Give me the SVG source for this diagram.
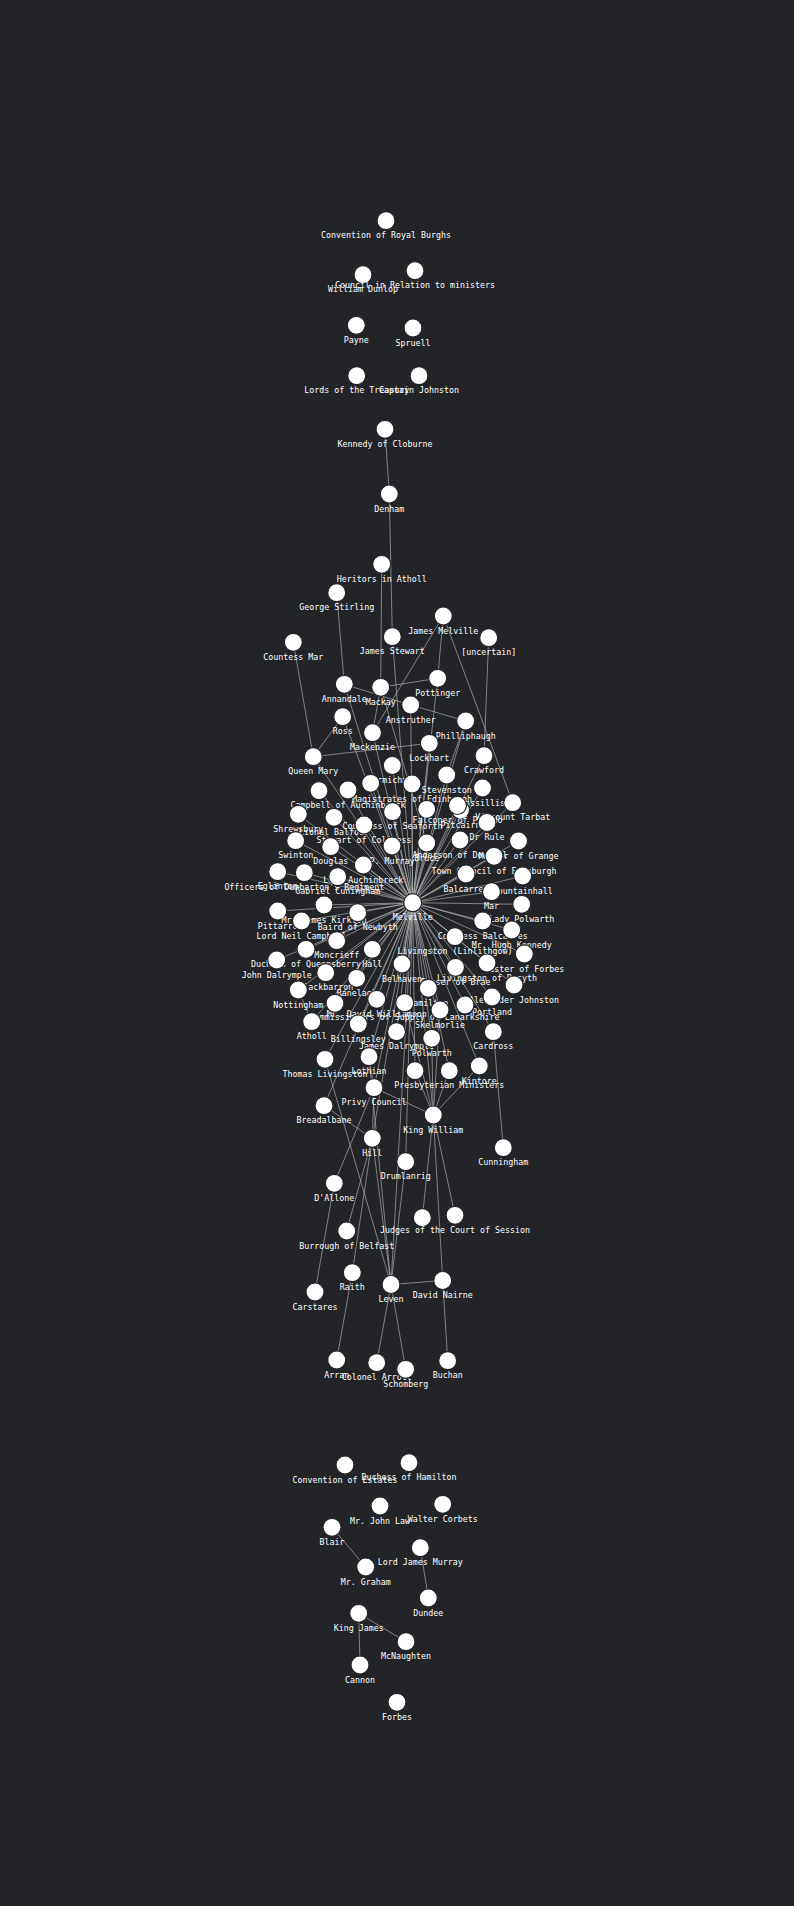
<svg xmlns="http://www.w3.org/2000/svg" width="794" height="1906" viewBox="0 0 794 1906">
<style>
.e line{stroke:#bdbdbd;stroke-opacity:.62;stroke-width:1}
.n circle{fill:#fff;stroke:#232428;stroke-width:1.2}
.n text{font-family:"DejaVu Sans Mono","Liberation Mono",monospace;font-size:8.3px;fill:#fff;text-anchor:middle}
</style>
<rect width="794" height="1906" fill="#232428"/>
<g id="edges" class="e">
<line x1="412.7" y1="902.7" x2="392.3" y2="636.7"/>
<line x1="412.7" y1="902.7" x2="344.3" y2="684.3"/>
<line x1="412.7" y1="902.7" x2="437.7" y2="678.3"/>
<line x1="412.7" y1="902.7" x2="410.7" y2="705"/>
<line x1="412.7" y1="902.7" x2="342.7" y2="716.7"/>
<line x1="412.7" y1="902.7" x2="465.7" y2="721"/>
<line x1="412.7" y1="902.7" x2="372.5" y2="732.7"/>
<line x1="412.7" y1="902.7" x2="429.3" y2="743.3"/>
<line x1="412.7" y1="902.7" x2="313.3" y2="756.7"/>
<line x1="412.7" y1="902.7" x2="392.3" y2="765.5"/>
<line x1="412.7" y1="902.7" x2="484" y2="755.7"/>
<line x1="412.7" y1="902.7" x2="446.7" y2="775"/>
<line x1="412.7" y1="902.7" x2="412" y2="784"/>
<line x1="412.7" y1="902.7" x2="370.7" y2="783.3"/>
<line x1="412.7" y1="902.7" x2="319" y2="790.7"/>
<line x1="412.7" y1="902.7" x2="348" y2="790"/>
<line x1="412.7" y1="902.7" x2="482.5" y2="788"/>
<line x1="412.7" y1="902.7" x2="512.7" y2="802.7"/>
<line x1="412.7" y1="902.7" x2="298.3" y2="814.3"/>
<line x1="412.7" y1="902.7" x2="334" y2="817.3"/>
<line x1="412.7" y1="902.7" x2="392.5" y2="811.7"/>
<line x1="412.7" y1="902.7" x2="426.7" y2="809.3"/>
<line x1="412.7" y1="902.7" x2="457.5" y2="805.5"/>
<line x1="412.7" y1="902.7" x2="460.5" y2="810"/>
<line x1="412.7" y1="902.7" x2="487" y2="822.5"/>
<line x1="412.7" y1="902.7" x2="364" y2="825"/>
<line x1="412.7" y1="902.7" x2="295.7" y2="840.7"/>
<line x1="412.7" y1="902.7" x2="330.7" y2="846.7"/>
<line x1="412.7" y1="902.7" x2="392" y2="846"/>
<line x1="412.7" y1="902.7" x2="426.7" y2="843"/>
<line x1="412.7" y1="902.7" x2="460" y2="840"/>
<line x1="412.7" y1="902.7" x2="518.5" y2="841"/>
<line x1="412.7" y1="902.7" x2="277.7" y2="871.7"/>
<line x1="412.7" y1="902.7" x2="304.3" y2="872.7"/>
<line x1="412.7" y1="902.7" x2="337.7" y2="876.7"/>
<line x1="412.7" y1="902.7" x2="363.3" y2="865"/>
<line x1="412.7" y1="902.7" x2="494" y2="856.3"/>
<line x1="412.7" y1="902.7" x2="466" y2="874"/>
<line x1="412.7" y1="902.7" x2="522.7" y2="876"/>
<line x1="412.7" y1="902.7" x2="491.5" y2="891.7"/>
<line x1="412.7" y1="902.7" x2="277.7" y2="911"/>
<line x1="412.7" y1="902.7" x2="324" y2="905"/>
<line x1="412.7" y1="902.7" x2="357.7" y2="912.7"/>
<line x1="412.7" y1="902.7" x2="301.5" y2="921"/>
<line x1="412.7" y1="902.7" x2="521.7" y2="904.3"/>
<line x1="412.7" y1="902.7" x2="482.7" y2="921"/>
<line x1="412.7" y1="902.7" x2="511.7" y2="930"/>
<line x1="412.7" y1="902.7" x2="455" y2="936.7"/>
<line x1="412.7" y1="902.7" x2="336.7" y2="940.7"/>
<line x1="412.7" y1="902.7" x2="306" y2="949.3"/>
<line x1="412.7" y1="902.7" x2="372.3" y2="949.3"/>
<line x1="412.7" y1="902.7" x2="524.3" y2="954"/>
<line x1="412.7" y1="902.7" x2="276.7" y2="960"/>
<line x1="412.7" y1="902.7" x2="402" y2="964"/>
<line x1="412.7" y1="902.7" x2="487" y2="963"/>
<line x1="412.7" y1="902.7" x2="455.5" y2="967.3"/>
<line x1="412.7" y1="902.7" x2="325.7" y2="972.7"/>
<line x1="412.7" y1="902.7" x2="356.7" y2="978.3"/>
<line x1="412.7" y1="902.7" x2="514" y2="985"/>
<line x1="412.7" y1="902.7" x2="428.3" y2="988.3"/>
<line x1="412.7" y1="902.7" x2="298.3" y2="990"/>
<line x1="412.7" y1="902.7" x2="492" y2="997"/>
<line x1="412.7" y1="902.7" x2="376.7" y2="999.3"/>
<line x1="412.7" y1="902.7" x2="404.7" y2="1002.7"/>
<line x1="412.7" y1="902.7" x2="335" y2="1003.3"/>
<line x1="412.7" y1="902.7" x2="465" y2="1005"/>
<line x1="412.7" y1="902.7" x2="440" y2="1010"/>
<line x1="412.7" y1="902.7" x2="311.7" y2="1021.7"/>
<line x1="412.7" y1="902.7" x2="358.3" y2="1024"/>
<line x1="412.7" y1="902.7" x2="396.5" y2="1031.7"/>
<line x1="412.7" y1="902.7" x2="493.3" y2="1031.7"/>
<line x1="412.7" y1="902.7" x2="431.7" y2="1038.3"/>
<line x1="412.7" y1="902.7" x2="325" y2="1059.3"/>
<line x1="412.7" y1="902.7" x2="369" y2="1056.7"/>
<line x1="412.7" y1="902.7" x2="415" y2="1070.7"/>
<line x1="412.7" y1="902.7" x2="449.3" y2="1070.7"/>
<line x1="412.7" y1="902.7" x2="479.3" y2="1066"/>
<line x1="412.7" y1="902.7" x2="374" y2="1087.7"/>
<line x1="412.7" y1="902.7" x2="324" y2="1105.7"/>
<line x1="412.7" y1="902.7" x2="433.3" y2="1115"/>
<line x1="412.7" y1="902.7" x2="372.3" y2="1138.3"/>
<line x1="412.7" y1="902.7" x2="405.7" y2="1161.7"/>
<line x1="412.7" y1="902.7" x2="391" y2="1284.5"/>
<line x1="385" y1="429.3" x2="389.3" y2="494"/>
<line x1="389.3" y1="494" x2="392.3" y2="636.7"/>
<line x1="381.7" y1="564.3" x2="380.7" y2="687.3"/>
<line x1="336.7" y1="592.7" x2="344.3" y2="684.3"/>
<line x1="293.3" y1="642.3" x2="313.3" y2="756.7"/>
<line x1="443.3" y1="616" x2="437.7" y2="678.3"/>
<line x1="443.3" y1="616" x2="372.5" y2="732.7"/>
<line x1="443.3" y1="616" x2="512.7" y2="802.7"/>
<line x1="488.7" y1="637.7" x2="484" y2="755.7"/>
<line x1="380.7" y1="687.3" x2="437.7" y2="678.3"/>
<line x1="344.3" y1="684.3" x2="410.7" y2="705"/>
<line x1="410.7" y1="705" x2="465.7" y2="721"/>
<line x1="313.3" y1="756.7" x2="429.3" y2="743.3"/>
<line x1="342.7" y1="716.7" x2="313.3" y2="756.7"/>
<line x1="380.7" y1="687.3" x2="372.5" y2="732.7"/>
<line x1="380.7" y1="687.3" x2="426.7" y2="843"/>
<line x1="465.7" y1="721" x2="446.7" y2="775"/>
<line x1="298.3" y1="990" x2="311.7" y2="1021.7"/>
<line x1="503.3" y1="1147.7" x2="493.3" y2="1031.7"/>
<line x1="325" y1="1059.3" x2="391" y2="1284.5"/>
<line x1="324" y1="1105.7" x2="372.3" y2="1138.3"/>
<line x1="372.3" y1="1138.3" x2="374" y2="1087.7"/>
<line x1="372.3" y1="1138.3" x2="391" y2="1284.5"/>
<line x1="372.3" y1="1138.3" x2="352.3" y2="1272.7"/>
<line x1="372.3" y1="1138.3" x2="346.7" y2="1231"/>
<line x1="352.3" y1="1272.7" x2="336.7" y2="1360"/>
<line x1="334.3" y1="1183.3" x2="315" y2="1292"/>
<line x1="334.3" y1="1183.3" x2="374" y2="1087.7"/>
<line x1="391" y1="1284.5" x2="405.7" y2="1161.7"/>
<line x1="391" y1="1284.5" x2="376.7" y2="1362.7"/>
<line x1="391" y1="1284.5" x2="405.7" y2="1369.3"/>
<line x1="391" y1="1284.5" x2="442.7" y2="1280.5"/>
<line x1="391" y1="1284.5" x2="369" y2="1056.7"/>
<line x1="442.7" y1="1280.5" x2="447.7" y2="1360.7"/>
<line x1="433.3" y1="1115" x2="442.7" y2="1280.5"/>
<line x1="433.3" y1="1115" x2="455" y2="1215.3"/>
<line x1="433.3" y1="1115" x2="422.3" y2="1217.7"/>
<line x1="433.3" y1="1115" x2="374" y2="1087.7"/>
<line x1="433.3" y1="1115" x2="449.3" y2="1070.7"/>
<line x1="433.3" y1="1115" x2="479.3" y2="1066"/>
<line x1="433.3" y1="1115" x2="431.7" y2="1038.3"/>
<line x1="433.3" y1="1115" x2="440" y2="1010"/>
<line x1="433.3" y1="1115" x2="404.7" y2="1002.7"/>
<line x1="433.3" y1="1115" x2="415" y2="1070.7"/>
<line x1="369" y1="1056.7" x2="374" y2="1087.7"/>
<line x1="332" y1="1527.3" x2="365.7" y2="1567"/>
<line x1="420.3" y1="1547.7" x2="428.3" y2="1598"/>
<line x1="358.7" y1="1613.3" x2="406" y2="1641.7"/>
<line x1="358.7" y1="1613.3" x2="360" y2="1665"/>
</g>
<g id="n1" class="n" transform="translate(386,220.7)"><circle r="9"/><text y="17.5">Convention of Royal Burghs</text></g>
<g id="n2" class="n" transform="translate(363,274.7)"><circle r="9"/><text y="17.5">William Dunlop</text></g>
<g id="n3" class="n" transform="translate(415,270.7)"><circle r="9"/><text y="17.5">Council in Relation to ministers</text></g>
<g id="n4" class="n" transform="translate(356.3,325.3)"><circle r="9"/><text y="17.5">Payne</text></g>
<g id="n5" class="n" transform="translate(413,328)"><circle r="9"/><text y="17.5">Spruell</text></g>
<g id="n6" class="n" transform="translate(356.7,375.7)"><circle r="9"/><text y="17.5">Lords of the Treasury</text></g>
<g id="n7" class="n" transform="translate(419,375.7)"><circle r="9"/><text y="17.5">Captain Johnston</text></g>
<g id="n8" class="n" transform="translate(385,429.3)"><circle r="9"/><text y="17.5">Kennedy of Cloburne</text></g>
<g id="n9" class="n" transform="translate(389.3,494)"><circle r="9"/><text y="17.5">Denham</text></g>
<g id="n10" class="n" transform="translate(381.7,564.3)"><circle r="9"/><text y="17.5">Heritors in Atholl</text></g>
<g id="n11" class="n" transform="translate(336.7,592.7)"><circle r="9"/><text y="17.5">George Stirling</text></g>
<g id="n12" class="n" transform="translate(443.3,616)"><circle r="9"/><text y="17.5">James Melville</text></g>
<g id="n13" class="n" transform="translate(293.3,642.3)"><circle r="9"/><text y="17.5">Countess Mar</text></g>
<g id="n14" class="n" transform="translate(392.3,636.7)"><circle r="9"/><text y="17.5">James Stewart</text></g>
<g id="n15" class="n" transform="translate(488.7,637.7)"><circle r="9"/><text y="17.5">[uncertain]</text></g>
<g id="n16" class="n" transform="translate(344.3,684.3)"><circle r="9"/><text y="17.5">Annandale</text></g>
<g id="n17" class="n" transform="translate(380.7,687.3)"><circle r="9"/><text y="17.5">Mackay</text></g>
<g id="n18" class="n" transform="translate(437.7,678.3)"><circle r="9"/><text y="17.5">Pottinger</text></g>
<g id="n19" class="n" transform="translate(410.7,705)"><circle r="9"/><text y="17.5">Anstruther</text></g>
<g id="n20" class="n" transform="translate(342.7,716.7)"><circle r="9"/><text y="17.5">Ross</text></g>
<g id="n21" class="n" transform="translate(465.7,721)"><circle r="9"/><text y="17.5">Philliphaugh</text></g>
<g id="n22" class="n" transform="translate(372.5,732.7)"><circle r="9"/><text y="17.5">Mackenzie</text></g>
<g id="n23" class="n" transform="translate(429.3,743.3)"><circle r="9"/><text y="17.5">Lockhart</text></g>
<g id="n24" class="n" transform="translate(313.3,756.7)"><circle r="9"/><text y="17.5">Queen Mary</text></g>
<g id="n25" class="n" transform="translate(392.3,765.5)"><circle r="9"/><text y="17.5">Carmichael</text></g>
<g id="n26" class="n" transform="translate(484,755.7)"><circle r="9"/><text y="17.5">Crawford</text></g>
<g id="n27" class="n" transform="translate(446.7,775)"><circle r="9"/><text y="17.5">Stevenston</text></g>
<g id="n29" class="n" transform="translate(370.7,783.3)"><circle r="9"/></g>
<g id="n28" class="n" transform="translate(412,784)"><circle r="9"/><text y="17.5">Magistrates of Edinburgh</text></g>
<g id="n30" class="n" transform="translate(319,790.7)"><circle r="9"/></g>
<g id="n31" class="n" transform="translate(348,790)"><circle r="9"/><text y="17.5">Campbell of Auchinbreck</text></g>
<g id="n32" class="n" transform="translate(482.5,788)"><circle r="9"/><text y="17.5">Cassillis</text></g>
<g id="n33" class="n" transform="translate(512.7,802.7)"><circle r="9"/><text y="17.5">Viscount Tarbat</text></g>
<g id="n34" class="n" transform="translate(298.3,814.3)"><circle r="9"/><text y="17.5">Shrewsbury</text></g>
<g id="n35" class="n" transform="translate(334,817.3)"><circle r="9"/><text y="17.5">Lionel Balfour</text></g>
<g id="n36" class="n" transform="translate(392.5,811.7)"><circle r="9"/><text y="17.5">Countess of Seaforth</text></g>
<g id="n37a" class="n" transform="translate(426.7,809.3)"><circle r="9"/></g>
<g id="n37" class="n" transform="translate(460.5,810)"><circle r="9"/><text y="17.5">Pitcairn</text></g>
<g id="n38" class="n" transform="translate(457.5,805.5)"><circle r="9"/><text y="17.5">Falconer of Phesdo</text></g>
<g id="n40" class="n" transform="translate(364,825)"><circle r="9"/><text y="17.5">Stewart of Coltness</text></g>
<g id="n39" class="n" transform="translate(487,822.5)"><circle r="9"/><text y="17.5">Dr Rule</text></g>
<g id="n41" class="n" transform="translate(295.7,840.7)"><circle r="9"/><text y="17.5">Swinton</text></g>
<g id="n42" class="n" transform="translate(330.7,846.7)"><circle r="9"/><text y="17.5">Douglas</text></g>
<g id="n45" class="n" transform="translate(460,840)"><circle r="9"/><text y="17.5">Anderson of Dowhill</text></g>
<g id="n43" class="n" transform="translate(392,846)"><circle r="9"/><text y="17.5">P. Murray</text></g>
<g id="n44" class="n" transform="translate(426.7,843)"><circle r="9"/><text y="17.5">Bruce</text></g>
<g id="n46" class="n" transform="translate(518.5,841)"><circle r="9"/><text y="17.5">Master of Grange</text></g>
<g id="n47" class="n" transform="translate(277.7,871.7)"><circle r="9"/><text y="17.5">Eglinton</text></g>
<g id="n48" class="n" transform="translate(304.3,872.7)"><circle r="9"/><text y="17.5">Officers of Dumbarton's Regiment</text></g>
<g id="n50" class="n" transform="translate(363.3,865)"><circle r="9"/><text y="17.5">Lord Auchinbreck</text></g>
<g id="n49" class="n" transform="translate(337.7,876.7)"><circle r="9"/><text y="17.5">Gabriel Cuningham</text></g>
<g id="n51" class="n" transform="translate(494,856.3)"><circle r="9"/><text y="17.5">Town Council of Edinburgh</text></g>
<g id="n52" class="n" transform="translate(466,874)"><circle r="9"/><text y="17.5">Balcarres</text></g>
<g id="n53" class="n" transform="translate(522.7,876)"><circle r="9"/><text y="17.5">Fountainhall</text></g>
<g id="n54" class="n" transform="translate(491.5,891.7)"><circle r="9"/><text y="17.5">Mar</text></g>
<g id="n55" class="n" transform="translate(412.7,902.7)"><circle r="9"/><text y="17.5">Melville</text></g>
<g id="n56" class="n" transform="translate(277.7,911)"><circle r="9"/><text y="17.5">Pittarro</text></g>
<g id="n57" class="n" transform="translate(324,905)"><circle r="9"/><text y="17.5">Mr. James Kirkton</text></g>
<g id="n58" class="n" transform="translate(357.7,912.7)"><circle r="9"/><text y="17.5">Baird of Newbyth</text></g>
<g id="n59" class="n" transform="translate(301.5,921)"><circle r="9"/><text y="17.5">Lord Neil Campbell</text></g>
<g id="n60" class="n" transform="translate(521.7,904.3)"><circle r="9"/><text y="17.5">Lady Polwarth</text></g>
<g id="n61" class="n" transform="translate(482.7,921)"><circle r="9"/><text y="17.5">Countess Balcarres</text></g>
<g id="n62" class="n" transform="translate(511.7,930)"><circle r="9"/><text y="17.5">Mr. Hugh Kennedy</text></g>
<g id="n63" class="n" transform="translate(455,936.7)"><circle r="9"/><text y="17.5">Livingston (Linlithgow)</text></g>
<g id="n64" class="n" transform="translate(336.7,940.7)"><circle r="9"/><text y="17.5">Moncrieff</text></g>
<g id="n65" class="n" transform="translate(306,949.3)"><circle r="9"/><text y="17.5">Duchess of Queensberry</text></g>
<g id="n66" class="n" transform="translate(372.3,949.3)"><circle r="9"/><text y="17.5">Hall</text></g>
<g id="n67" class="n" transform="translate(524.3,954)"><circle r="9"/><text y="17.5">Master of Forbes</text></g>
<g id="n68" class="n" transform="translate(276.7,960)"><circle r="9"/><text y="17.5">John Dalrymple</text></g>
<g id="n70" class="n" transform="translate(487,963)"><circle r="9"/><text y="17.5">Livingston of Rosyth</text></g>
<g id="n69" class="n" transform="translate(402,964)"><circle r="9"/><text y="17.5">Belhaven</text></g>
<g id="n71" class="n" transform="translate(455.5,967.3)"><circle r="9"/><text y="17.5">Fraser of Brae</text></g>
<g id="n72" class="n" transform="translate(325.7,972.7)"><circle r="9"/><text y="17.5">Blackbarron</text></g>
<g id="n73" class="n" transform="translate(356.7,978.3)"><circle r="9"/><text y="17.5">Ranelagh</text></g>
<g id="n74" class="n" transform="translate(514,985)"><circle r="9"/><text y="17.5">Alexander Johnston</text></g>
<g id="n75" class="n" transform="translate(428.3,988.3)"><circle r="9"/><text y="17.5">Hamilton</text></g>
<g id="n76" class="n" transform="translate(298.3,990)"><circle r="9"/><text y="17.5">Nottingham</text></g>
<g id="n77" class="n" transform="translate(492,997)"><circle r="9"/><text y="17.5">Portland</text></g>
<g id="n78" class="n" transform="translate(376.7,999.3)"><circle r="9"/><text y="17.5">Mr. David Williamson</text></g>
<g id="n80" class="n" transform="translate(335,1003.3)"><circle r="9"/></g>
<g id="n81" class="n" transform="translate(465,1005)"><circle r="9"/></g>
<g id="n79" class="n" transform="translate(404.7,1002.7)"><circle r="9"/><text y="17.5">Commissioners of Supply of Lanarkshire</text></g>
<g id="n82" class="n" transform="translate(440,1010)"><circle r="9"/><text y="17.5">Skelmorlie</text></g>
<g id="n83" class="n" transform="translate(311.7,1021.7)"><circle r="9"/><text y="17.5">Atholl</text></g>
<g id="n84" class="n" transform="translate(358.3,1024)"><circle r="9"/><text y="17.5">Billingsley</text></g>
<g id="n85" class="n" transform="translate(396.5,1031.7)"><circle r="9"/><text y="17.5">James Dalrymple</text></g>
<g id="n86" class="n" transform="translate(493.3,1031.7)"><circle r="9"/><text y="17.5">Cardross</text></g>
<g id="n87" class="n" transform="translate(431.7,1038.3)"><circle r="9"/><text y="17.5">Polwarth</text></g>
<g id="n88" class="n" transform="translate(325,1059.3)"><circle r="9"/><text y="17.5">Thomas Livingston</text></g>
<g id="n89" class="n" transform="translate(369,1056.7)"><circle r="9"/><text y="17.5">Lothian</text></g>
<g id="n90" class="n" transform="translate(415,1070.7)"><circle r="9"/></g>
<g id="n92" class="n" transform="translate(479.3,1066)"><circle r="9"/><text y="17.5">Kintore</text></g>
<g id="n91" class="n" transform="translate(449.3,1070.7)"><circle r="9"/><text y="17.5">Presbyterian Ministers</text></g>
<g id="n93" class="n" transform="translate(374,1087.7)"><circle r="9"/><text y="17.5">Privy Council</text></g>
<g id="n94" class="n" transform="translate(324,1105.7)"><circle r="9"/><text y="17.5">Breadalbane</text></g>
<g id="n95" class="n" transform="translate(433.3,1115)"><circle r="9"/><text y="17.5">King William</text></g>
<g id="n96" class="n" transform="translate(372.3,1138.3)"><circle r="9"/><text y="17.5">Hill</text></g>
<g id="n97" class="n" transform="translate(503.3,1147.7)"><circle r="9"/><text y="17.5">Cunningham</text></g>
<g id="n98" class="n" transform="translate(405.7,1161.7)"><circle r="9"/><text y="17.5">Drumlanrig</text></g>
<g id="n99" class="n" transform="translate(334.3,1183.3)"><circle r="9"/><text y="17.5">D'Allone</text></g>
<g id="n100" class="n" transform="translate(422.3,1217.7)"><circle r="9"/></g>
<g id="n101" class="n" transform="translate(455,1215.3)"><circle r="9"/><text y="17.5">Judges of the Court of Session</text></g>
<g id="n102" class="n" transform="translate(346.7,1231)"><circle r="9"/><text y="17.5">Burrough of Belfast</text></g>
<g id="n103" class="n" transform="translate(352.3,1272.7)"><circle r="9"/><text y="17.5">Raith</text></g>
<g id="n104" class="n" transform="translate(391,1284.5)"><circle r="9"/><text y="17.5">Leven</text></g>
<g id="n105" class="n" transform="translate(442.7,1280.5)"><circle r="9"/><text y="17.5">David Nairne</text></g>
<g id="n106" class="n" transform="translate(315,1292)"><circle r="9"/><text y="17.5">Carstares</text></g>
<g id="n107" class="n" transform="translate(336.7,1360)"><circle r="9"/><text y="17.5">Arran</text></g>
<g id="n108" class="n" transform="translate(376.7,1362.7)"><circle r="9"/><text y="17.5">Colonel Arrott</text></g>
<g id="n109" class="n" transform="translate(405.7,1369.3)"><circle r="9"/><text y="17.5">Schomberg</text></g>
<g id="n110" class="n" transform="translate(447.7,1360.7)"><circle r="9"/><text y="17.5">Buchan</text></g>
<g id="n111" class="n" transform="translate(345,1465)"><circle r="9"/><text y="17.5">Convention of Estates</text></g>
<g id="n112" class="n" transform="translate(409,1462.7)"><circle r="9"/><text y="17.5">Duchess of Hamilton</text></g>
<g id="n113" class="n" transform="translate(380,1506)"><circle r="9"/><text y="17.5">Mr. John Law</text></g>
<g id="n114" class="n" transform="translate(442.7,1504.3)"><circle r="9"/><text y="17.5">Walter Corbets</text></g>
<g id="n115" class="n" transform="translate(332,1527.3)"><circle r="9"/><text y="17.5">Blair</text></g>
<g id="n116" class="n" transform="translate(420.3,1547.7)"><circle r="9"/><text y="17.5">Lord James Murray</text></g>
<g id="n117" class="n" transform="translate(365.7,1567)"><circle r="9"/><text y="17.5">Mr. Graham</text></g>
<g id="n118" class="n" transform="translate(428.3,1598)"><circle r="9"/><text y="17.5">Dundee</text></g>
<g id="n119" class="n" transform="translate(358.7,1613.3)"><circle r="9"/><text y="17.5">King James</text></g>
<g id="n120" class="n" transform="translate(406,1641.7)"><circle r="9"/><text y="17.5">McNaughten</text></g>
<g id="n121" class="n" transform="translate(360,1665)"><circle r="9"/><text y="17.5">Cannon</text></g>
<g id="n122" class="n" transform="translate(397,1702.3)"><circle r="9"/><text y="17.5">Forbes</text></g>
</svg>
